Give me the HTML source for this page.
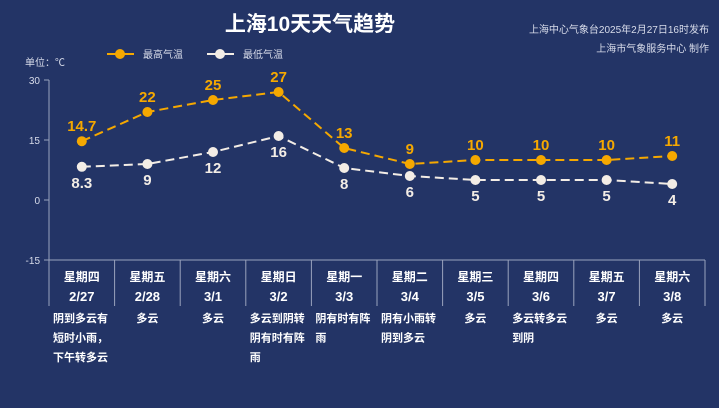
<!DOCTYPE html>
<html><head><meta charset="utf-8"><style>
body{margin:0;background:#233466;width:719px;height:408px;overflow:hidden;font-family:"Liberation Sans","Noto Sans CJK SC",sans-serif}
</style></head><body>
<svg width="719" height="408" style="display:block">
<rect width="719" height="408" fill="#233466"/>
<text x="310" y="31" fill="#fff" font-size="21" font-weight="bold" text-anchor="middle" font-family="Liberation Sans,Noto Sans CJK SC,sans-serif">上海10天天气趋势</text>
<text x="709" y="33" fill="#d8dcea" font-size="10" text-anchor="end">上海中心气象台2025年2月27日16时发布</text>
<text x="709" y="52" fill="#d8dcea" font-size="10" text-anchor="end">上海市气象服务中心 制作</text>
<g><line x1="107" y1="54" x2="134" y2="54" stroke="#f5a800" stroke-width="2"/><circle cx="120" cy="54" r="5" fill="#f5a800"/><text x="143" y="58" fill="#d8dcea" font-size="10">最高气温</text></g>
<g><line x1="207" y1="54" x2="234" y2="54" stroke="#f3ede6" stroke-width="2"/><circle cx="220" cy="54" r="5" fill="#f3ede6"/><text x="243" y="58" fill="#d8dcea" font-size="10">最低气温</text></g>
<text x="25" y="66" fill="#d8dcea" font-size="10">单位：℃</text>
<g id="axes"></g><g id="table"></g><g id="series"></g>
</svg>
<script>
const days=["星期四","星期五","星期六","星期日","星期一","星期二","星期三","星期四","星期五","星期六"];
const dates=["2/27","2/28","3/1","3/2","3/3","3/4","3/5","3/6","3/7","3/8"];
const weather=[["阴到多云有","短时小雨，","下午转多云"],["多云"],["多云"],["多云到阴转","阴有时有阵","雨"],["阴有时有阵","雨"],["阴有小雨转","阴到多云"],["多云"],["多云转多云","到阴"],["多云"],["多云"]];
const highs=[14.7,22,25,27,13,9,10,10,10,11];
const lows=[8.3,9,12,16,8,6,5,5,5,4];
const highLabels=["14.7","22","25","27","13","9","10","10","10","11"];
const lowLabels=["8.3","9","12","16","8","6","5","5","5","4"];
const yTicks=[30,15,0,-15];
const NS="http://www.w3.org/2000/svg";
const x0=49,colW=65.6;
const xs=i=>x0+colW*(i+0.5);
const ys=v=>200-v*4;
function mk(p,tag,a,txt){const e=document.createElementNS(NS,tag);for(const k in a)e.setAttribute(k,a[k]);if(txt!==undefined)e.textContent=txt;p.appendChild(e);return e;}
const ax=document.getElementById('axes'),tb=document.getElementById('table'),sr=document.getElementById('series');
let e=mk(ax,'line',{x1:x0,y1:ys(30),x2:x0,y2:ys(-15),stroke:'#9aa3bd','stroke-width':1});

yTicks.forEach(t=>{const g=mk(ax,'g',{});

mk(g,'line',{x1:x0-5,y1:ys(t),x2:x0,y2:ys(t),stroke:'#9aa3bd'});
mk(g,'text',{x:x0-9,y:ys(t)+4,fill:'#d8dcea','font-size':10,'text-anchor':'end'},String(t));});
e=mk(ax,'line',{x1:x0-5,y1:ys(-15),x2:x0+colW*10,y2:ys(-15),stroke:'#9aa3bd'});

for(let i=0;i<=10;i++){e=mk(tb,'line',{x1:x0+colW*i,y1:ys(-15),x2:x0+colW*i,y2:306,stroke:'#9aa3bd'});
}
days.forEach((d,i)=>{const g=mk(tb,'g',{'font-weight':'bold','text-anchor':'middle',fill:'#fff'});

mk(g,'text',{x:xs(i),y:281,'font-size':12},d);
mk(g,'text',{x:xs(i),y:301,'font-size':13},dates[i]);
const w=weather[i];const anchorStart=w.length>1;
w.forEach((l,j)=>mk(g,'text',{x:anchorStart?x0+colW*i+4:xs(i),y:322+j*19.5,'font-size':11,'text-anchor':anchorStart?'start':'middle'},l));});
function series(vals,labels,color,name,above){
const pts=vals.map((v,i)=>xs(i)+','+ys(v)).join(' ');
let p=mk(sr,'polyline',{points:pts,fill:'none',stroke:color,'stroke-width':2,'stroke-dasharray':'9,5'});

vals.forEach((v,i)=>{let c=mk(sr,'circle',{cx:xs(i),cy:ys(v),r:5,fill:color});

let t=mk(sr,'text',{x:xs(i),y:above?ys(v)-10:ys(v)+21,fill:color,'font-size':15,'font-weight':'bold','text-anchor':'middle'},labels[i]);
});}
series(highs,highLabels,'#f5a800','high-temp',true);
series(lows,lowLabels,'#f3ede6','low-temp',false);
</script>
</body></html>
